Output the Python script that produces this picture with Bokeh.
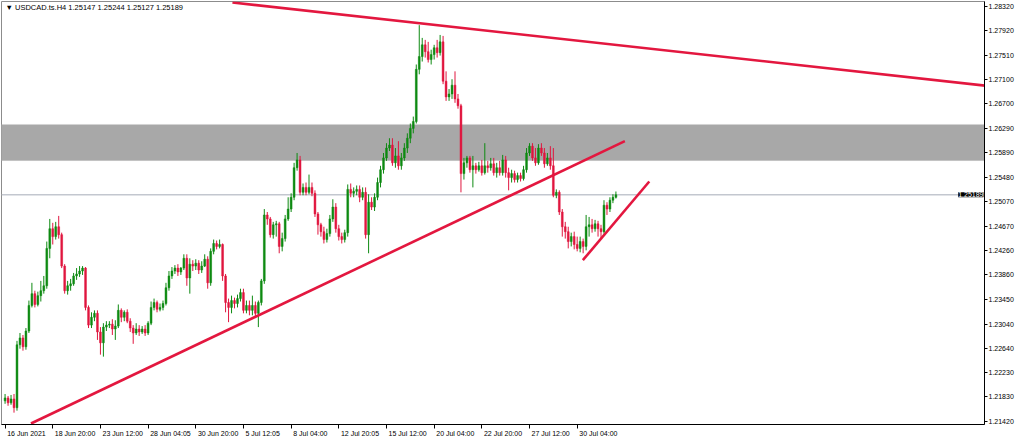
from bokeh.plotting import figure
from bokeh.models import (ColumnDataSource, Range1d, LinearAxis, FixedTicker,
                          BoxAnnotation, Span, Label, PrintfTickFormatter)
from bokeh.embed import file_html
from bokeh.resources import INLINE

# ---------------- data (USDCAD H4) ----------------
symbol = "USDCAD.ts.H4"

opens = [1.21764, 1.21813, 1.21731, 1.21796, 1.21650, 1.22696, 1.22810, 1.22663, 1.22925, 1.23350,
         1.23546, 1.23366, 1.23513, 1.23595, 1.23677, 1.24298, 1.24625, 1.24494, 1.24658, 1.24527,
         1.24004, 1.23595, 1.23677, 1.23709, 1.23840, 1.23873, 1.23922, 1.23971, 1.23317, 1.23023,
         1.23153, 1.23219, 1.22909, 1.22728, 1.22990, 1.23023, 1.23039, 1.22958, 1.23007, 1.23268,
         1.23153, 1.23236, 1.23088, 1.22974, 1.22892, 1.22958, 1.22909, 1.22958, 1.22892, 1.23055,
         1.23317, 1.23399, 1.23285, 1.23317, 1.23382, 1.23644, 1.23840, 1.23922, 1.23971, 1.23906,
         1.23971, 1.24134, 1.23807, 1.24036, 1.24004, 1.24053, 1.23939, 1.24004, 1.24118, 1.23726,
         1.24249, 1.24380, 1.24331, 1.24363, 1.23840, 1.23399, 1.23317, 1.23431, 1.23382, 1.23464,
         1.23563, 1.23268, 1.23350, 1.23268, 1.23350, 1.23219, 1.23399, 1.23758, 1.24854, 1.24788,
         1.24527, 1.24690, 1.24707, 1.24331, 1.24461, 1.24788, 1.24952, 1.25148, 1.25639, 1.25769,
         1.25230, 1.25312, 1.25230, 1.25312, 1.25214, 1.24871, 1.24690, 1.24576, 1.24445, 1.24544,
         1.24788, 1.24985, 1.24625, 1.24494, 1.24445, 1.24560, 1.25279, 1.25214, 1.25247, 1.25279,
         1.25148, 1.25230, 1.24527, 1.25066, 1.24985, 1.25148, 1.25393, 1.25606, 1.25802, 1.25966,
         1.26015, 1.25720, 1.25835, 1.25671, 1.25802, 1.25966, 1.26129, 1.26293, 1.26407, 1.27274,
         1.27487, 1.27682, 1.27568, 1.27437, 1.27519, 1.27633, 1.27552, 1.27731, 1.27077, 1.26816,
         1.26865, 1.27012, 1.26783, 1.26669, 1.25541, 1.25720, 1.25802, 1.25606, 1.25671, 1.25606,
         1.25671, 1.25557, 1.25671, 1.25639, 1.25704, 1.25557, 1.25639, 1.25557, 1.25769, 1.25557,
         1.25475, 1.25541, 1.25442, 1.25508, 1.25459, 1.25606, 1.25884, 1.25998, 1.25802, 1.25720,
         1.25966, 1.25884, 1.25704, 1.25802, 1.25671, 1.25181, 1.25230, 1.24903, 1.24658, 1.24576,
         1.24412, 1.24494, 1.24363, 1.24298, 1.24412, 1.24331, 1.24658, 1.24690, 1.24625, 1.24707,
         1.24625, 1.24576, 1.25017, 1.24952, 1.25099, 1.25147]

highs = [1.21878, 1.21845, 1.21862, 1.21878, 1.22761, 1.22892, 1.22859, 1.22974, 1.23431, 1.23726,
         1.23595, 1.23579, 1.23758, 1.23840, 1.24412, 1.24788, 1.24723, 1.24739, 1.24838, 1.24560,
         1.24036, 1.23758, 1.23791, 1.23890, 1.23971, 1.24004, 1.24004, 1.23988, 1.23350, 1.23236,
         1.23268, 1.23268, 1.22990, 1.23055, 1.23088, 1.23088, 1.23121, 1.23104, 1.23366, 1.23301,
         1.23268, 1.23285, 1.23137, 1.23023, 1.23055, 1.23023, 1.23007, 1.23023, 1.23088, 1.23415,
         1.23464, 1.23431, 1.23382, 1.23431, 1.23726, 1.23922, 1.23988, 1.24020, 1.24036, 1.23988,
         1.24200, 1.24200, 1.24134, 1.24102, 1.24118, 1.24102, 1.24085, 1.24200, 1.24167, 1.24298,
         1.24445, 1.24429, 1.24445, 1.24380, 1.23873, 1.23464, 1.23513, 1.23480, 1.23530, 1.23628,
         1.23628, 1.23431, 1.23431, 1.23513, 1.23415, 1.23431, 1.23791, 1.24952, 1.24903, 1.24821,
         1.24739, 1.24756, 1.24739, 1.24560, 1.24854, 1.25148, 1.25214, 1.25720, 1.25884, 1.25835,
         1.25377, 1.25393, 1.25525, 1.25393, 1.25263, 1.24903, 1.24723, 1.24658, 1.24625, 1.24854,
         1.25115, 1.25050, 1.24690, 1.24560, 1.24609, 1.25361, 1.25377, 1.25312, 1.25344, 1.25344,
         1.25312, 1.25312, 1.25198, 1.25148, 1.25214, 1.25475, 1.25671, 1.25884, 1.26047, 1.26129,
         1.26129, 1.25966, 1.26080, 1.25884, 1.26047, 1.26211, 1.26374, 1.26489, 1.27355, 1.28009,
         1.27797, 1.27764, 1.27731, 1.27601, 1.27682, 1.27764, 1.27846, 1.27830, 1.27241, 1.26947,
         1.27110, 1.27241, 1.26865, 1.26701, 1.25802, 1.25835, 1.25835, 1.25835, 1.25720, 1.25737,
         1.25769, 1.26047, 1.25753, 1.25802, 1.25802, 1.25720, 1.25753, 1.25852, 1.25835, 1.25639,
         1.25606, 1.25590, 1.25557, 1.25557, 1.25671, 1.25966, 1.26047, 1.26047, 1.25966, 1.26031,
         1.26047, 1.25966, 1.25884, 1.25998, 1.25966, 1.25279, 1.25263, 1.24952, 1.24739, 1.24658,
         1.24560, 1.24576, 1.24494, 1.24494, 1.24461, 1.24854, 1.24821, 1.24788, 1.24772, 1.24756,
         1.24690, 1.25099, 1.25066, 1.25148, 1.25198, 1.25244]

lows = [1.21715, 1.21682, 1.21699, 1.21568, 1.21601, 1.22631, 1.22598, 1.22614, 1.22892, 1.23317,
        1.23317, 1.23334, 1.23415, 1.23546, 1.23628, 1.24134, 1.24363, 1.24445, 1.24461, 1.23971,
        1.23546, 1.23530, 1.23595, 1.23677, 1.23775, 1.23824, 1.23857, 1.23268, 1.22974, 1.22974,
        1.23088, 1.22777, 1.22532, 1.22499, 1.22925, 1.22974, 1.22859, 1.22777, 1.22974, 1.23072,
        1.23088, 1.23055, 1.22909, 1.22712, 1.22859, 1.22843, 1.22876, 1.22843, 1.22859, 1.23023,
        1.23268, 1.23236, 1.23252, 1.23268, 1.23350, 1.23595, 1.23791, 1.23873, 1.23840, 1.23857,
        1.23939, 1.23677, 1.23546, 1.23922, 1.23939, 1.23873, 1.23890, 1.23988, 1.23628, 1.23677,
        1.24200, 1.24282, 1.24298, 1.23758, 1.23236, 1.23072, 1.23219, 1.23301, 1.23317, 1.23415,
        1.23219, 1.23219, 1.23186, 1.23186, 1.23153, 1.22990, 1.23350, 1.23709, 1.24690, 1.24478,
        1.24461, 1.24494, 1.24217, 1.24249, 1.24412, 1.24756, 1.24903, 1.25099, 1.25590, 1.25181,
        1.25181, 1.25181, 1.25198, 1.25165, 1.24821, 1.24527, 1.24494, 1.24380, 1.24396, 1.24494,
        1.24739, 1.24560, 1.24429, 1.24380, 1.24396, 1.24494, 1.25148, 1.25148, 1.25181, 1.25066,
        1.25099, 1.24461, 1.24217, 1.24936, 1.24920, 1.25099, 1.25312, 1.25541, 1.25753, 1.25917,
        1.25671, 1.25639, 1.25606, 1.25606, 1.25753, 1.25884, 1.26047, 1.26211, 1.26374, 1.27192,
        1.27404, 1.27470, 1.27388, 1.27355, 1.27437, 1.27470, 1.27503, 1.27028, 1.26750, 1.26750,
        1.26783, 1.26718, 1.26620, 1.25230, 1.25442, 1.25639, 1.25557, 1.25312, 1.25541, 1.25574,
        1.25508, 1.25525, 1.25557, 1.25590, 1.25508, 1.25475, 1.25508, 1.25508, 1.25475, 1.25263,
        1.25393, 1.25393, 1.25393, 1.25410, 1.25426, 1.25557, 1.25835, 1.25753, 1.25671, 1.25688,
        1.25835, 1.25639, 1.25671, 1.25606, 1.25148, 1.25132, 1.24854, 1.24494, 1.24461, 1.24298,
        1.24331, 1.24282, 1.24249, 1.24233, 1.24217, 1.24266, 1.24494, 1.24560, 1.24576, 1.24494,
        1.24461, 1.24544, 1.24854, 1.24903, 1.25050, 1.25127]

closes = [1.21813, 1.21731, 1.21796, 1.21650, 1.22696, 1.22810, 1.22663, 1.22925, 1.23350, 1.23546,
          1.23366, 1.23513, 1.23595, 1.23677, 1.24298, 1.24625, 1.24494, 1.24658, 1.24527, 1.24004,
          1.23595, 1.23677, 1.23709, 1.23840, 1.23873, 1.23922, 1.23971, 1.23317, 1.23023, 1.23153,
          1.23219, 1.22909, 1.22728, 1.22990, 1.23023, 1.23039, 1.22958, 1.23007, 1.23268, 1.23153,
          1.23236, 1.23088, 1.22974, 1.22892, 1.22958, 1.22909, 1.22958, 1.22892, 1.23055, 1.23317,
          1.23399, 1.23285, 1.23317, 1.23382, 1.23644, 1.23840, 1.23922, 1.23971, 1.23906, 1.23971,
          1.24134, 1.23807, 1.24036, 1.24004, 1.24053, 1.23939, 1.24004, 1.24118, 1.23726, 1.24249,
          1.24380, 1.24331, 1.24363, 1.23840, 1.23399, 1.23317, 1.23431, 1.23382, 1.23464, 1.23563,
          1.23268, 1.23350, 1.23268, 1.23350, 1.23219, 1.23399, 1.23758, 1.24854, 1.24788, 1.24527,
          1.24690, 1.24707, 1.24331, 1.24461, 1.24788, 1.24952, 1.25148, 1.25639, 1.25769, 1.25230,
          1.25312, 1.25230, 1.25312, 1.25214, 1.24871, 1.24690, 1.24576, 1.24445, 1.24544, 1.24788,
          1.24985, 1.24625, 1.24494, 1.24445, 1.24560, 1.25279, 1.25214, 1.25247, 1.25279, 1.25148,
          1.25230, 1.24527, 1.25066, 1.24985, 1.25148, 1.25393, 1.25606, 1.25802, 1.25966, 1.26015,
          1.25720, 1.25835, 1.25671, 1.25802, 1.25966, 1.26129, 1.26293, 1.26407, 1.27274, 1.27487,
          1.27682, 1.27568, 1.27437, 1.27519, 1.27633, 1.27552, 1.27731, 1.27077, 1.26816, 1.26865,
          1.27012, 1.26783, 1.26669, 1.25541, 1.25720, 1.25802, 1.25606, 1.25671, 1.25606, 1.25671,
          1.25557, 1.25671, 1.25639, 1.25704, 1.25557, 1.25639, 1.25557, 1.25769, 1.25557, 1.25475,
          1.25541, 1.25442, 1.25508, 1.25459, 1.25606, 1.25884, 1.25998, 1.25802, 1.25720, 1.25966,
          1.25884, 1.25704, 1.25802, 1.25671, 1.25181, 1.25230, 1.24903, 1.24658, 1.24576, 1.24412,
          1.24494, 1.24363, 1.24298, 1.24412, 1.24331, 1.24658, 1.24690, 1.24625, 1.24707, 1.24625,
          1.24576, 1.25017, 1.24952, 1.25099, 1.25147, 1.25189]

# price scale ticks (right axis)
price_ticks = [1.28320, 1.27920, 1.27510, 1.27100, 1.26700, 1.26290, 1.25890, 1.25480, 1.25070,
               1.24670, 1.24260, 1.23860, 1.23450, 1.23040, 1.22640, 1.22230, 1.21830, 1.21420]

# time scale: bar index -> label
time_tick_bars = [0, 16, 32, 48, 64, 80, 96, 112, 128, 144, 160, 176, 192]
time_tick_labels = ["16 Jun 2021", "18 Jun 20:00", "23 Jun 12:00", "28 Jun 04:05", "30 Jun 20:00",
                    "5 Jul 12:05", "8 Jul 04:00", "12 Jul 20:05", "15 Jul 12:00", "20 Jul 04:00",
                    "22 Jul 20:00", "27 Jul 12:00", "30 Jul 04:00"]

# supply/demand zone and current price
zone_low = 1.25757
zone_high = 1.26358
last_price = 1.25189

# hand-drawn trend lines: (bar index, price) pairs
trend_resistance_bars = [76.3, 330.0]
trend_resistance_prices = [1.28385, 1.26997]
trend_support_bars = [8.7, 208.0]
trend_support_prices = [1.21388, 1.26080]
trend_channel_bars = [193.9, 216.2]
trend_channel_prices = [1.24102, 1.25410]

# ---------------- build ----------------
X_MIN, X_MAX = -1.2, 328.7
n = len(closes)
idx = list(range(n))
up = [c >= o for o, c in zip(opens, closes)]

def sub(flag):
    sel = [i for i in idx if up[i] == flag]
    return ColumnDataSource(dict(
        x=[idx[i] for i in sel],
        top=[max(opens[i], closes[i]) for i in sel],
        bottom=[min(opens[i], closes[i]) for i in sel],
        high=[highs[i] for i in sel],
        low=[lows[i] for i in sel],
    ))

src_up = sub(True)
src_dn = sub(False)

GREEN = "#0e8a12"
RED = "#e0163f"
LINE = "#e3173f"
FONT = "Liberation Sans"
FS_AX = 7
FS_T = 7.5

p = figure(width=1016, height=439, output_backend="svg", toolbar_location=None,
           x_range=Range1d(X_MIN, X_MAX), y_range=Range1d(1.21371, 1.28402),
           x_axis_type=None, y_axis_type=None,
           min_border_left=1, min_border_top=1, min_border_right=1, min_border_bottom=1)
p.background_fill_color = "white"
p.border_fill_color = "white"
p.outline_line_color = "#8c8c8c"
p.xgrid.visible = False
p.ygrid.visible = False

zone = BoxAnnotation(bottom=zone_low, top=zone_high, fill_color="#a8a8a8", fill_alpha=1.0,
                     line_color="#cfcfcf", line_width=1, level="underlay")
p.add_layout(zone)
p.add_layout(Span(location=last_price, dimension="width", line_color="#c3c7cf",
                  line_width=1.5, level="underlay"))

for src, col in ((src_up, GREEN), (src_dn, RED)):
    p.segment(x0="x", y0="low", x1="x", y1="high", source=src, line_color=col, line_width=1)
    p.vbar(x="x", top="top", bottom="bottom", width=0.62, source=src,
           fill_color=col, line_color=col, line_width=0.5)

for bx, py in ((trend_resistance_bars, trend_resistance_prices),
               (trend_support_bars, trend_support_prices),
               (trend_channel_bars, trend_channel_prices)):
    p.line(bx, py, line_color=LINE, line_width=2.6)

# right price scale
yaxis = LinearAxis(ticker=FixedTicker(ticks=price_ticks),
                   formatter=PrintfTickFormatter(format="%.5f"))
yaxis.axis_line_color = "black"
yaxis.major_tick_line_color = "black"
yaxis.major_tick_out = 3
yaxis.major_tick_in = 0
yaxis.minor_tick_line_color = None
yaxis.major_label_standoff = 1
yaxis.major_label_text_font = FONT
yaxis.major_label_text_font_size = f"{FS_AX}px"
yaxis.major_label_text_color = "black"
p.add_layout(yaxis, "right")

# bottom time scale: tick marks drawn as (label-less) minor ticks at the bar,
# the label text is anchored half its width to the right so it starts at the tick
char_w = {" ": 0.278, ":": 0.278, "J": 0.5, "u": 0.556, "n": 0.556, "l": 0.222}
frame_px = 1016 - 2 - 36
px_per_bar = frame_px / (X_MAX - X_MIN)
label_pos = []
for b, t in zip(time_tick_bars, time_tick_labels):
    w = sum(char_w.get(ch, 0.556) for ch in t) * FS_AX
    label_pos.append(round(b + (w / 2 + 2.0) / px_per_bar, 3))

xaxis = LinearAxis(ticker=FixedTicker(ticks=label_pos, minor_ticks=time_tick_bars),
                   major_label_overrides={pos: t for pos, t in zip(label_pos, time_tick_labels)})
xaxis.axis_line_color = "black"
xaxis.major_tick_line_color = None
xaxis.major_tick_out = 3
xaxis.major_tick_in = 0
xaxis.minor_tick_line_color = "black"
xaxis.minor_tick_out = 4
xaxis.minor_tick_in = 0
xaxis.major_label_standoff = 1
xaxis.major_label_text_font = FONT
xaxis.major_label_text_font_size = f"{FS_AX}px"
xaxis.major_label_text_color = "black"
p.add_layout(xaxis, "below")

title = "\u25bc " + symbol + "  " + " ".join(
    f"{v:.5f}" for v in (opens[-1], highs[-1], lows[-1], closes[-1]))
p.add_layout(Label(x=4, y=1.28295, x_units="screen", y_units="data", text=title,
                   text_font=FONT, text_font_size=f"{FS_T}px", text_color="black",
                   text_baseline="middle"))

# current-price tag, at the right edge of the price area
p.add_layout(Label(x=X_MAX, y=last_price, x_units="data", y_units="data",
                   text=f"{last_price:.5f}", text_font=FONT, text_font_size=f"{FS_AX}px",
                   text_color="white", text_baseline="middle", text_align="right",
                   x_offset=-1, background_fill_color="black", background_fill_alpha=1.0))

open("out.html", "w").write(file_html(p, INLINE))
